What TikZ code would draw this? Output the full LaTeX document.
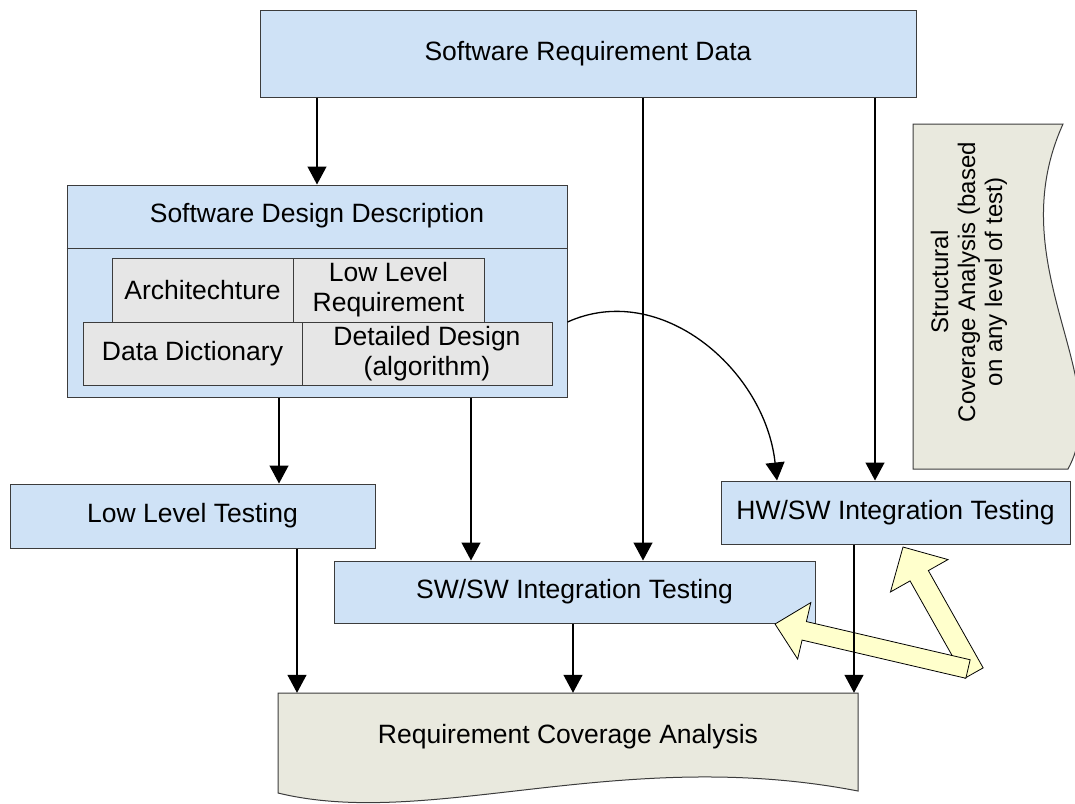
\documentclass[tikz,border=0pt]{standalone}
\usepackage{fontspec}
\setmainfont{Liberation Sans}
\usetikzlibrary{arrows.meta,calc}

\definecolor{boxblue}{RGB}{207,226,246}
\definecolor{boxgray}{RGB}{230,230,230}
\definecolor{docbeige}{RGB}{233,233,222}
\definecolor{hiyellow}{RGB}{255,255,204}
\definecolor{edge}{RGB}{60,60,60}

\tikzset{
  label font/.style={font=\fontsize{26.5}{30}\selectfont},
  blue box/.style={draw=edge, line width=1pt, fill=boxblue, inner sep=0pt,
                   align=center, label font},
  gray box/.style={draw=edge, line width=1pt, fill=boxgray, inner sep=0pt,
                   align=center, label font},
  doc shape/.style={draw=edge, line width=1pt, fill=docbeige},
  conn/.style={line width=1.3pt, -{Triangle[width=19pt,length=18pt]}},
  fat arrow/.style={draw=black, line width=0.8pt, fill=hiyellow, line join=miter},
}

% broad hollow arrow: tail, tip, shaft width, head width, head length
\newcommand\fatarrow[5]{%
  \draw[fat arrow] let \p1=(#1), \p2=(#2),
      \n1={atan2(\y2-\y1,\x2-\x1)}, \n2={veclen(\x2-\x1,\y2-\y1)} in
    [shift={(\p1)}, rotate=\n1]
    (0,{#3/2}) -- ({\n2-#5},{#3/2}) -- ({\n2-#5},{#4/2}) -- (\n2,0)
    -- ({\n2-#5},{-#4/2}) -- ({\n2-#5},{-#3/2}) -- (0,{-#3/2}) -- cycle;}

\begin{document}
\begin{tikzpicture}[x=1pt,y=-1pt]
  \useasboundingbox (0,0) rectangle (1075,803);
  \clip (0,0) rectangle (1075,803);

  % top data source
  \node[blue box, minimum width=656, minimum height=87] (srd) at (588,53.5)
       {Software Requirement Data};

  % design description with its four parts
  \node[blue box, minimum width=500, minimum height=212] (sdd) at (317,291) {};
  \draw[edge, line width=1pt] (sdd.west |- 0,248) -- (sdd.east |- 0,248);
  \node[label font] (sddtitle) at (317,216) {Software Design Description};
  \node[gray box, minimum width=181, minimum height=64] (arch) at (202.5,290)
       {Architechture};
  \node[gray box, minimum width=191, minimum height=64] (llr) at (388.5,290)
       {Low Level\\Requirement};
  \node[gray box, minimum width=219, minimum height=63] (dd) at (192.5,353.5)
       {Data Dictionary};
  \node[gray box, minimum width=250, minimum height=63] (det) at (427,353.5)
       {Detailed Design\\(algorithm)};

  % test levels
  \node[blue box, minimum width=365, minimum height=64] (llt) at (192.5,516)
       {Low Level Testing};
  \node[blue box, minimum width=481, minimum height=62] (sw) at (574.5,592)
       {SW/SW Integration Testing};
  \node[blue box, minimum width=349, minimum height=63] (hw) at (895.5,512.5)
       {HW/SW Integration Testing};

  % requirement coverage document
  \draw[doc shape] (278,693) -- (858,693) -- (858,791)
       .. controls (620,745) and (430,830) .. (278,793) -- cycle;
  \node[label font, inner sep=0pt, minimum width=580, minimum height=88]
       (rca) at (568,737) {Requirement Coverage Analysis};

  % structural coverage document, turned on its side
  \draw[doc shape] (913,469) -- (913,124) -- (1063,124)
       .. controls (999,265.5) and (1117,378.6) .. (1068,469) -- cycle;
  \node[rotate=90, align=center, inner sep=0pt,
        font=\fontsize{24}{27}\selectfont] (sca) at (969,282)
       {Structural\\Coverage Analysis (based\\on any level of test)};

  % broad arrows feeding the coverage results back
  \coordinate (tailA) at (974,673);
  \coordinate (tipA) at (903,547);
  \coordinate (tailB) at (968,669);
  \coordinate (tipB) at (775,624);
  \fatarrow{tailA}{tipA}{21}{66}{33}
  \fatarrow{tailB}{tipB}{19}{58}{30}

  % connector columns
  \coordinate (xA) at (643,0);
  \coordinate (xB) at (875,0);
  \coordinate (xC) at (279,0);
  \coordinate (xD) at (471,0);
  \coordinate (xE) at (297,0);
  \coordinate (xF) at (854,0);
  \coordinate (xG) at (777,0);
  \coordinate (xH) at (573,0);
  \coordinate (yG) at (0,322);

  \draw[conn] (srd.south -| sdd.north) -- (sdd.north);
  \draw[conn] (srd.south -| xA) -- (sw.north -| xA);
  \draw[conn] (srd.south -| xB) -- (hw.north -| xB);
  \draw[conn] (sdd.south -| xC) -- (llt.north -| xC);
  \draw[conn] (sdd.south -| xD) -- (sw.north -| xD);
  \draw[conn] (sdd.east |- yG) .. controls +(93,-42) and +(-12,-111) .. (hw.north -| xG);
  \draw[conn] (llt.south -| xE) -- (rca.north -| xE);
  \draw[conn] (sw.south -| xH) -- (rca.north -| xH);
  \draw[conn] (hw.south -| xF) -- (rca.north -| xF);
\end{tikzpicture}
\end{document}
